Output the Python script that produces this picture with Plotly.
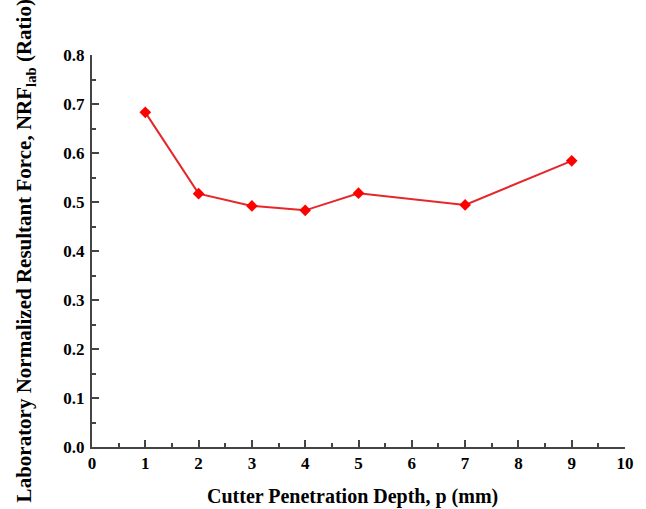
import plotly.graph_objects as go

depth = [1, 2, 3, 4, 5, 7, 9]
nrf_lab = [0.683, 0.517, 0.492, 0.483, 0.518, 0.494, 0.584]

x_ticks = [0, 1, 2, 3, 4, 5, 6, 7, 8, 9, 10]
y_ticks = [0.0, 0.1, 0.2, 0.3, 0.4, 0.5, 0.6, 0.7, 0.8]
y_ticklabels = ["0.0", "0.1", "0.2", "0.3", "0.4", "0.5", "0.6", "0.7", "0.8"]

x_title = "Cutter Penetration Depth, p (mm)"
y_title = "Laboratory Normalized Resultant Force, NRF<sub>lab</sub> (Ratio)"

FONT = "Liberation Serif"
AX = "#444444"

fig = go.Figure()
fig.add_trace(go.Scatter(
    x=depth, y=nrf_lab, mode="lines+markers",
    line=dict(color="#e5272b", width=2),
    marker=dict(symbol="diamond", size=9, color="#ff0000"),
    showlegend=False,
))

fig.update_layout(
    width=646, height=509,
    margin=dict(l=92, r=19, t=55, b=62),
    plot_bgcolor="white", paper_bgcolor="white",
    font=dict(family=FONT, size=16, color="black", weight="bold"),
    xaxis=dict(
        range=[0, 10], tickvals=x_ticks, ticktext=[str(v) for v in x_ticks],
        ticks="inside", ticklen=7, tickwidth=2, tickcolor=AX,
        showline=True, linecolor=AX, linewidth=2, showgrid=False, zeroline=False,
        minor=dict(dtick=0.5, ticks="inside", ticklen=4, tickwidth=2, tickcolor=AX, showgrid=False),
        tickfont=dict(family=FONT, size=17, color="black", weight="bold"),
        ticklabelstandoff=0,
    ),
    yaxis=dict(
        range=[0, 0.8], tickvals=y_ticks, ticktext=y_ticklabels,
        ticks="inside", ticklen=7, tickwidth=2, tickcolor=AX,
        showline=True, linecolor=AX, linewidth=2, showgrid=False, zeroline=False,
        minor=dict(dtick=0.05, ticks="inside", ticklen=4, tickwidth=2, tickcolor=AX, showgrid=False),
        tickfont=dict(family=FONT, size=17, color="black", weight="bold"),
        ticklabelstandoff=2,
    ),
    annotations=[
        dict(text=x_title, xref="paper", yref="paper", x=0.488, y=-0.125,
             xanchor="center", yanchor="middle", showarrow=False,
             font=dict(family=FONT, size=20, color="black", weight="bold")),
        dict(text=y_title, xref="paper", yref="paper", x=-0.125, y=0.5,
             xanchor="center", yanchor="middle", showarrow=False, textangle=-90,
             font=dict(family=FONT, size=21, color="black", weight="bold")),
    ],
)

fig.write_html("out.html", config={"displayModeBar": False},
               post_script="document.body.style.margin='0';document.body.style.overflow='hidden';")
